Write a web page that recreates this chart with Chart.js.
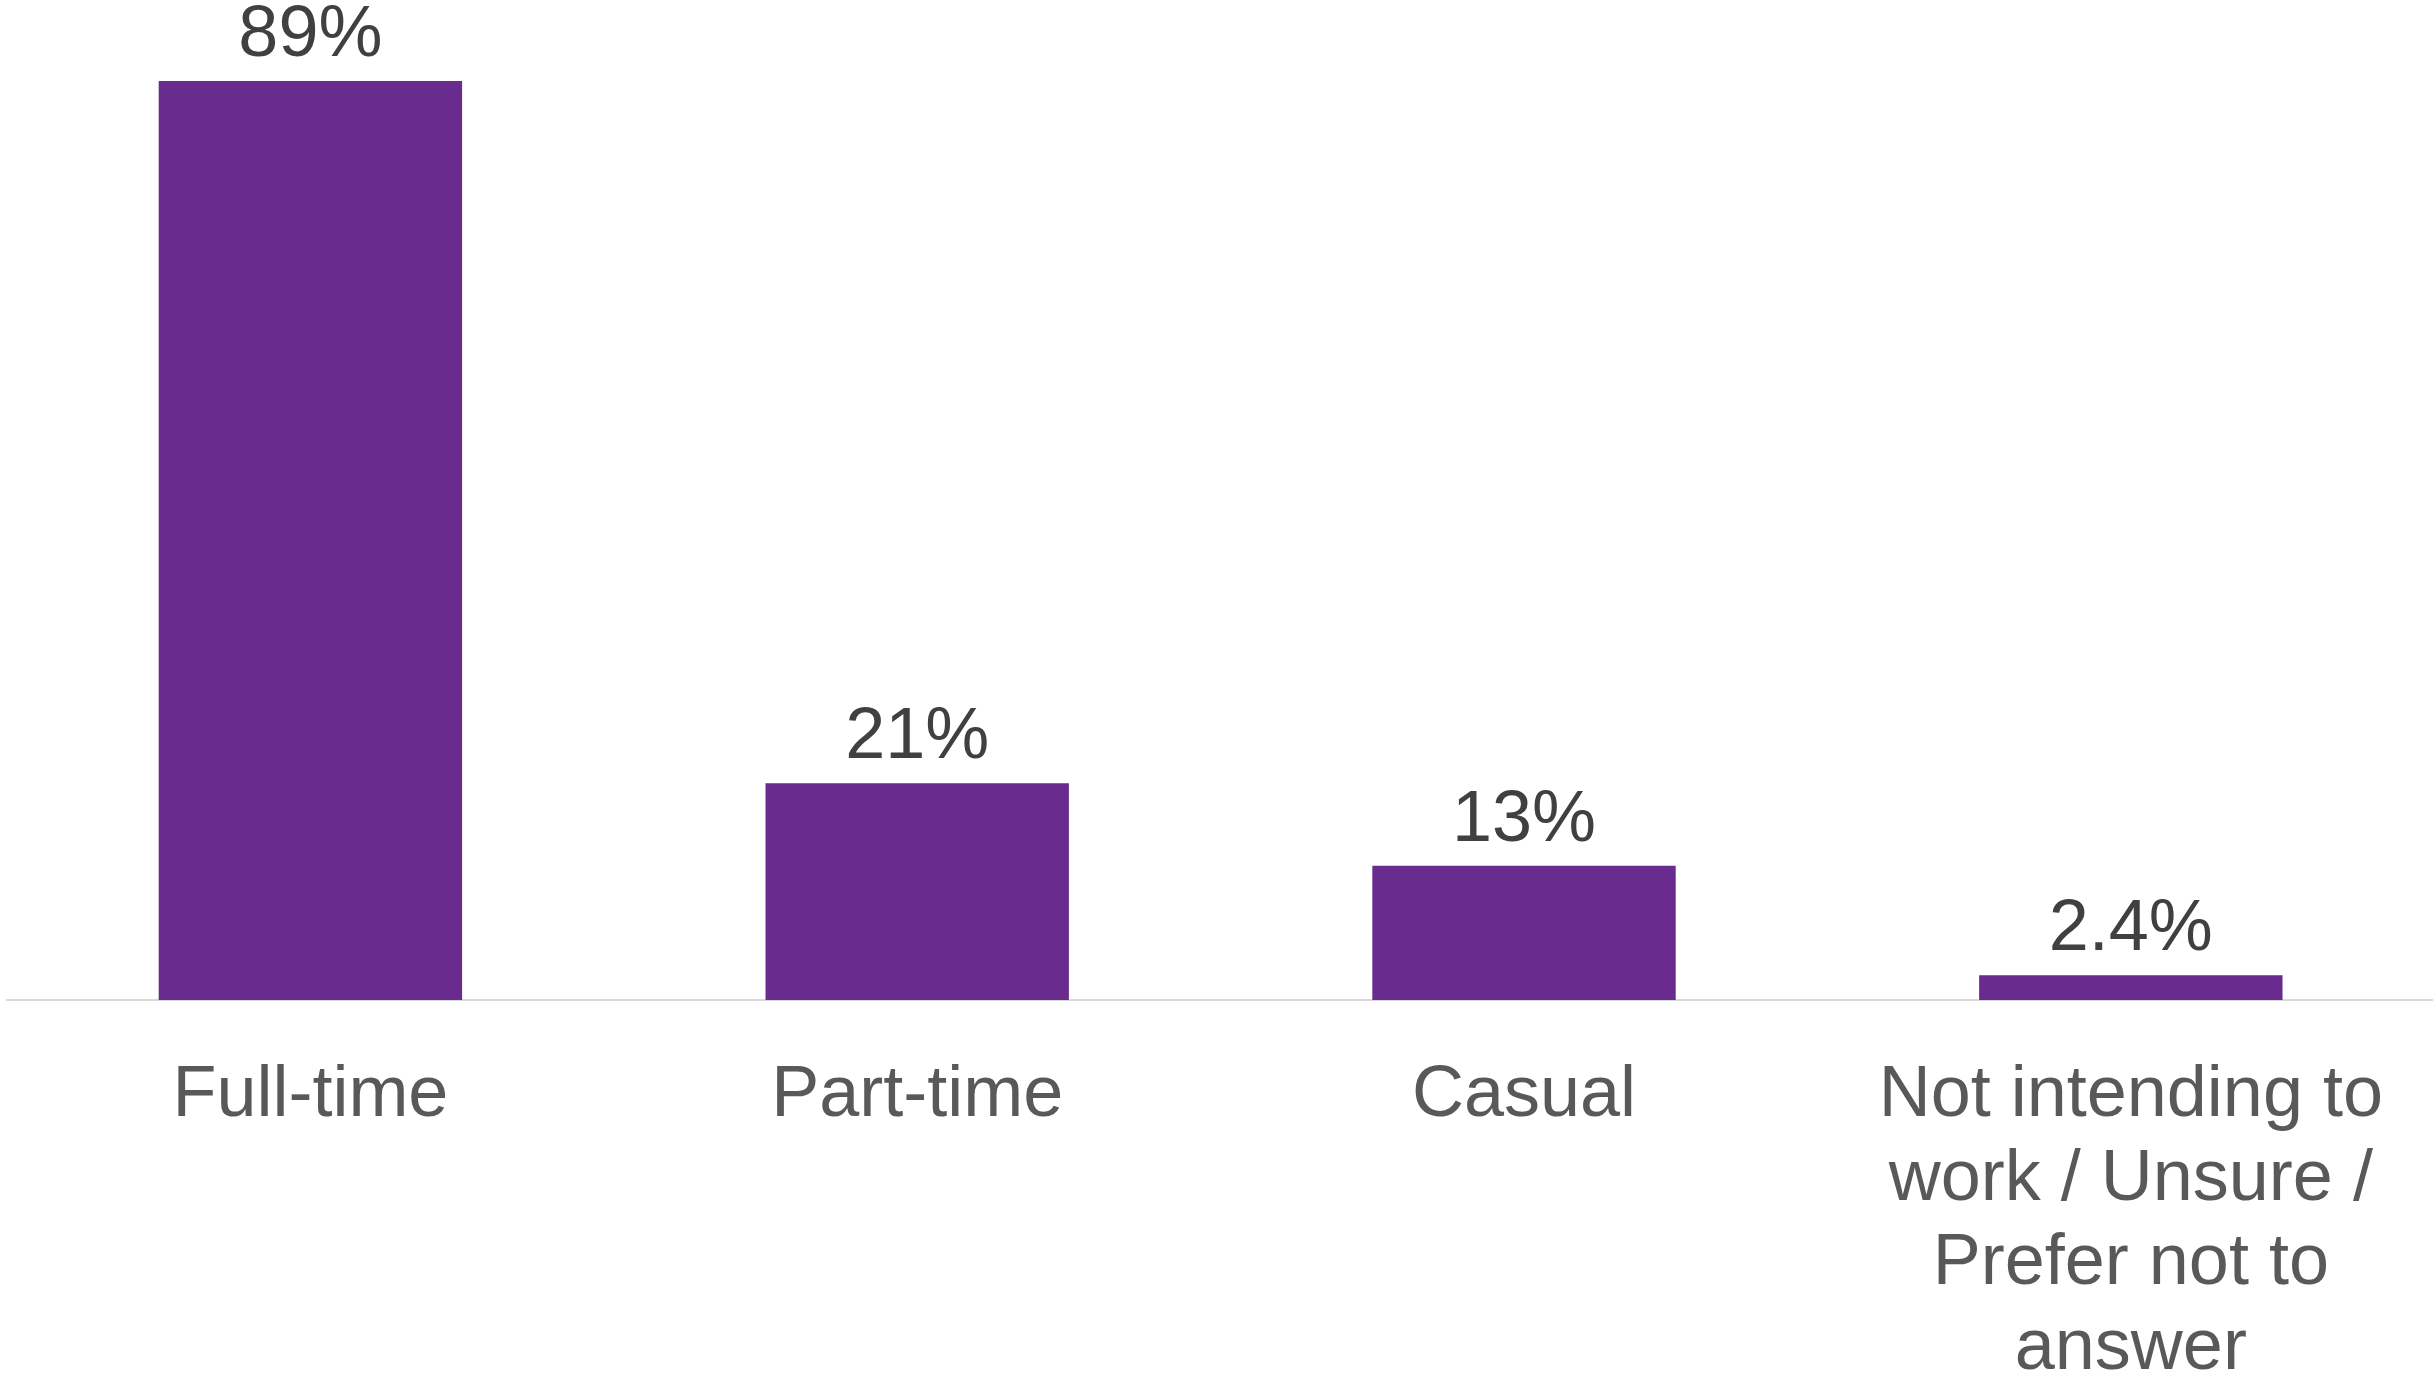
<!DOCTYPE html>
<html>
<head>
<meta charset="utf-8">
<title>Work intentions</title>
<script src="https://cdn.jsdelivr.net/npm/chart.js@4/dist/chart.umd.min.js"></script>
<style>
    html, body { margin: 0; padding: 0; background: #ffffff; overflow: hidden; }
    #wrap { width: 2437px; height: 1373px; position: relative; }
</style>
</head>
<body>
<div id="wrap"><canvas id="workChart"></canvas></div>
<script>
// Data
const categories = [
    'Full-time',
    'Part-time',
    'Casual',
    ['Not intending to', 'work / Unsure /', 'Prefer not to', 'answer']
];
const shares = [89, 21, 13, 2.4];

const BAR_COLOR = '#692B8E';
const VALUE_COLOR = '#404040';
const LABEL_COLOR = '#595959';

// Draw the percentage above each bar
const valueLabels = {
    id: 'valueLabels',
    afterDatasetsDraw(chart) {
        const ctx = chart.ctx;
        const meta = chart.getDatasetMeta(0);
        ctx.save();
        ctx.font = '72px "Liberation Sans", Arial, sans-serif';
        ctx.fillStyle = VALUE_COLOR;
        ctx.textAlign = 'center';
        ctx.textBaseline = 'alphabetic';
        meta.data.forEach((bar, i) => {
            ctx.fillText(shares[i] + '%', bar.x, bar.y - 25);
        });
        ctx.restore();
    }
};

const ctx = document.getElementById('workChart').getContext('2d');
const workChart = new Chart(ctx, {
    type: 'bar',
    data: {
        labels: categories,
        datasets: [{
            data: shares,
            backgroundColor: BAR_COLOR,
            borderWidth: 0,
            categoryPercentage: 1,
            barPercentage: 0.5
        }]
    },
    options: {
        responsive: true,
        maintainAspectRatio: false,
        animation: false,
        layout: {
            padding: { top: 81, left: 7, right: 0, bottom: 0 }
        },
        plugins: {
            legend: { display: false },
            tooltip: { enabled: false }
        },
        scales: {
            x: {
                grid: { display: false, drawTicks: false },
                border: { display: true, color: '#D9D9D9', width: 2 },
                ticks: {
                    color: LABEL_COLOR,
                    padding: 54,
                    maxRotation: 0,
                    autoSkip: false,
                    font: { family: '"Liberation Sans Narrow", "Liberation Sans", Arial, sans-serif', size: 72, lineHeight: 1.17 }
                },
                afterFit(scale) {
                    scale.height = 373;
                }
            },
            y: {
                display: false,
                min: 0,
                max: 89
            }
        }
    },
    plugins: [valueLabels]
});
</script>
</body>
</html>
